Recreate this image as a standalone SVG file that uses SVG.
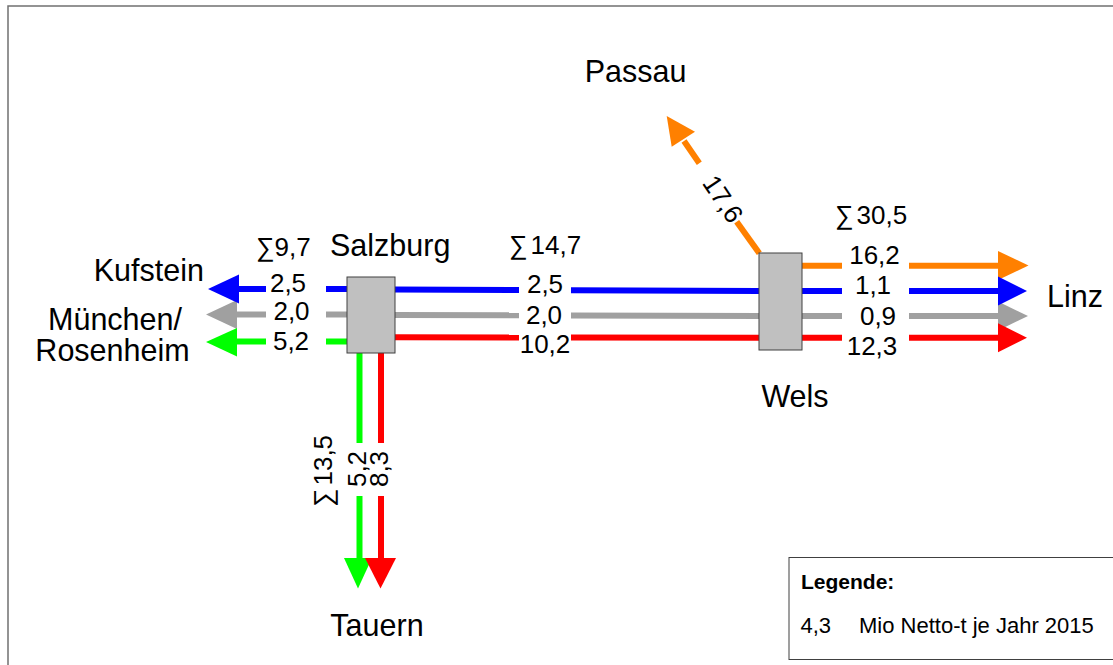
<svg xmlns="http://www.w3.org/2000/svg" width="1113" height="665" viewBox="0 0 1113 665">
  <style>
    text { font-family: "Liberation Sans", Arial, sans-serif; fill: #000; }
    .name { font-size: 30.5px; }
    .num { font-size: 26px; }
    .mid { text-anchor: middle; }
    .end { text-anchor: end; }
    .leg { font-size: 22px; }
    .legb { font-size: 21px; font-weight: bold; }
    .hub { fill: #c0c0c0; stroke: #404040; stroke-width: 1; }
    .flow { fill: none; stroke-width: 6; stroke-linecap: butt; }
    .blue { stroke: #0000ff; } .blueF { fill: #0000ff; }
    .gray { stroke: #a0a0a0; } .grayF { fill: #a0a0a0; }
    .green { stroke: #00ff00; } .greenF { fill: #00ff00; }
    .red { stroke: #ff0000; } .redF { fill: #ff0000; }
    .orange { stroke: #ff8000; } .orangeF { fill: #ff8000; }
  </style>

  <rect width="1113" height="665" fill="#fff"/>
  <!-- outer frame -->
  <rect x="8" y="6" width="1200" height="800" fill="none" stroke="#707070" stroke-width="1.5"/>

  <!-- flows -->
  <g id="connectors">
    <!-- west: Salzburg -> Kufstein / München -->
    <g id="west">
      <line class="flow gray" x1="234" y1="314.5" x2="266" y2="314.5"/>
      <line class="flow gray" x1="326" y1="314.5" x2="347" y2="314.5"/>
      <polygon class="grayF" points="206,314.5 237,300 237,329"/>
      <line class="flow blue" x1="236" y1="289" x2="266" y2="289"/>
      <line class="flow blue" x1="326" y1="289" x2="347" y2="289"/>
      <polygon class="blueF" points="208,289 239,274.5 239,303.5"/>
      <line class="flow green" x1="234" y1="341.5" x2="266" y2="341.5"/>
      <line class="flow green" x1="326" y1="341.5" x2="347" y2="341.5"/>
      <polygon class="greenF" points="206,342 237,328 237,356.5"/>
    </g>
    <!-- Salzburg -> Wels -->
    <g id="middle">
      <line class="flow blue" x1="395" y1="289.5" x2="519" y2="290"/>
      <line class="flow blue" x1="571" y1="290.2" x2="759" y2="291"/>
      <line class="flow gray" x1="395" y1="315" x2="519" y2="315.3"/>
      <line class="flow gray" x1="571" y1="315.5" x2="759" y2="316"/>
      <line class="flow red" x1="395" y1="337.2" x2="519" y2="337.4"/>
      <line class="flow red" x1="571" y1="337.5" x2="759" y2="337.8"/>
    </g>
    <!-- Wels -> Linz -->
    <g id="east">
      <line class="flow orange" x1="802" y1="265.7" x2="842" y2="265.7"/>
      <line class="flow orange" x1="909" y1="265.7" x2="1000" y2="265.7"/>
      <polygon class="orangeF" points="1028.5,265.5 998,251 998,280"/>
      <line class="flow gray" x1="802" y1="316" x2="842" y2="316"/>
      <line class="flow gray" x1="909" y1="316" x2="1000" y2="316"/>
      <polygon class="grayF" points="1028,316 998,301.5 998,330.5"/>
      <line class="flow blue" x1="802" y1="291" x2="842" y2="291"/>
      <line class="flow blue" x1="909" y1="291" x2="1000" y2="291"/>
      <polygon class="blueF" points="1027,291 998,276.5 998,305.5"/>
      <line class="flow red" x1="802" y1="337.7" x2="842" y2="337.7"/>
      <line class="flow red" x1="909" y1="337.7" x2="1000" y2="337.7"/>
      <polygon class="redF" points="1027,337.7 998,323.2 998,352.2"/>
    </g>
    <!-- Wels -> Passau -->
    <g id="north">
      <line class="flow orange" x1="759.3" y1="253.3" x2="736.7" y2="221.7"/>
      <line class="flow orange" x1="699.3" y1="163.3" x2="684" y2="141"/>
      <polygon class="orangeF" points="666.7,116 671.7,146.7 695,131.7"/>
    </g>
    <!-- Salzburg -> Tauern -->
    <g id="south">
      <line class="flow green" x1="359.5" y1="353" x2="359.5" y2="443"/>
      <line class="flow green" x1="359.5" y1="496" x2="359.5" y2="561"/>
      <polygon class="greenF" points="358,588.5 344,558 372,558"/>
      <line class="flow red" x1="381" y1="353" x2="381" y2="443"/>
      <line class="flow red" x1="381" y1="496" x2="381" y2="561"/>
      <polygon class="redF" points="380.5,588.5 365,558 396,558"/>
    </g>
  </g>

  <!-- hubs -->
  <g id="salzburg">
    <rect class="hub" x="347" y="277" width="48" height="76"/>
    <text class="name" x="330" y="255.5">Salzburg</text>
  </g>
  <g id="wels">
    <rect class="hub" x="759" y="253" width="43" height="97"/>
    <text class="name mid" x="795" y="407">Wels</text>
  </g>

  <!-- destinations -->
  <g id="kufstein"><text class="name end" x="204" y="281">Kufstein</text></g>
  <g id="muenchen">
    <text class="name mid" x="115" y="329.5">München/</text>
    <text class="name mid" x="112.5" y="361">Rosenheim</text>
  </g>
  <g id="passau"><text class="name mid" x="635.5" y="82">Passau</text></g>
  <g id="linz"><text class="name" x="1047" y="307">Linz</text></g>
  <g id="tauern"><text class="name mid" x="377" y="636">Tauern</text></g>

  <!-- flow values -->
  <g id="values">
    <text class="num" x="256" y="256">∑9,7</text>
    <text class="num mid" x="288" y="291.5">2,5</text>
    <text class="num mid" x="291.5" y="320">2,0</text>
    <text class="num mid" x="291" y="349.5">5,2</text>

    <text class="num" x="509" y="254">∑<tspan dx="3">14,7</tspan></text>
    <text class="num mid" x="545" y="293">2,5</text>
    <text class="num mid" x="544" y="324">2,0</text>
    <text class="num mid" x="545" y="353">10,2</text>

    <text class="num" x="835" y="224">∑<tspan dx="3">30,5</tspan></text>
    <text class="num mid" x="874.5" y="264">16,2</text>
    <text class="num mid" x="873" y="294">1,1</text>
    <text class="num mid" x="878" y="325">0,9</text>
    <text class="num mid" x="872" y="355">12,3</text>

    <text class="num mid" transform="translate(723,199) rotate(56)" x="0" y="9">17,6</text>

    <text class="num mid" transform="translate(332,471) rotate(-90)">∑<tspan dx="3">13,5</tspan></text>
    <text class="num mid" transform="translate(365.5,469) rotate(-90)">5,2</text>
    <text class="num mid" transform="translate(387.5,469) rotate(-90)">8,3</text>
  </g>

  <!-- legend -->
  <g id="legend">
    <rect x="789" y="557.5" width="340" height="102" fill="#fff" stroke="#404040" stroke-width="1"/>
    <text class="legb" x="801" y="589">Legende:</text>
    <text class="leg" x="800.5" y="632.5">4,3</text>
    <text class="leg" x="859" y="632.5">Mio Netto-t je Jahr 2015</text>
  </g>
</svg>
